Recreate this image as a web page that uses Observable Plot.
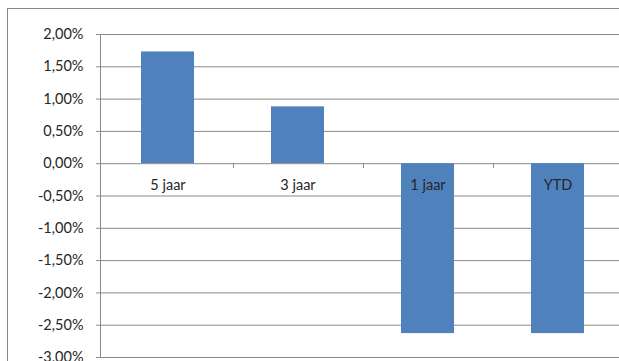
<!DOCTYPE html>
<html><head><meta charset="utf-8">
<script src="https://cdn.jsdelivr.net/npm/d3@7"></script>
<script src="https://cdn.jsdelivr.net/npm/@observablehq/plot@0.6"></script>
<style>
html,body{margin:0;padding:0;background:#fff;overflow:hidden;width:619px;height:361px}
#wrap{position:relative;width:619px;height:361px;overflow:hidden}
#border{position:absolute;left:7px;top:8px;width:700px;height:400px;border:1px solid #8a8a8a;box-sizing:border-box;pointer-events:none}
#chart{position:absolute;left:0;top:0}
</style></head><body><div id="wrap"><div id="border"></div><div id="chart"></div></div>
<script>
const categories = ["5 jaar", "3 jaar", "1 jaar", "YTD"];
const values = [1.73, 0.88, -2.63, -2.63];
const yTicks = [2, 1.5, 1, 0.5, 0, -0.5, -1, -1.5, -2, -2.5, -3];

const data = categories.map((c, i) => ({cat: c, value: values[i]}));
const fmt = d => d.toFixed(2).replace(".", ",") + "%";
const xRange = [100, 624];
const step = (xRange[1] - xRange[0]) / categories.length;
const grey = "#8a8a8a";
const ink = "#262626";

const plot = Plot.plot({
  width: 619, height: 361,
  marginTop: 34, marginBottom: 4, marginLeft: 100, marginRight: 0,
  style: {fontFamily: "Lato, 'Open Sans', sans-serif", fontSize: "14.5px", color: ink, background: "transparent"},
  x: {domain: categories, range: xRange, paddingInner: 0.595, paddingOuter: 0.31, axis: null},
  y: {domain: [-3, 2], axis: null},
  marks: [
    Plot.gridY(yTicks, {stroke: grey, strokeOpacity: 1}),
    Plot.barY(data, {x: "cat", y: "value", fill: "#4f81bd"}),
    Plot.ruleX(categories.slice(0, -1), {x: d => d, y1: 0, y2: 0, insetBottom: -5, dx: step / 2, stroke: grey}),
    Plot.axisY(yTicks, {label: null, tickFormat: fmt, tickSize: 4, tickPadding: 13, stroke: grey, fill: ink, color: ink}),
    Plot.frame({anchor: "left", stroke: grey}),
    Plot.text(data, {x: "cat", y: () => 0, text: "cat", dy: 22, fill: ink})
  ]
});
document.getElementById("chart").append(plot);
</script>
</body></html>
